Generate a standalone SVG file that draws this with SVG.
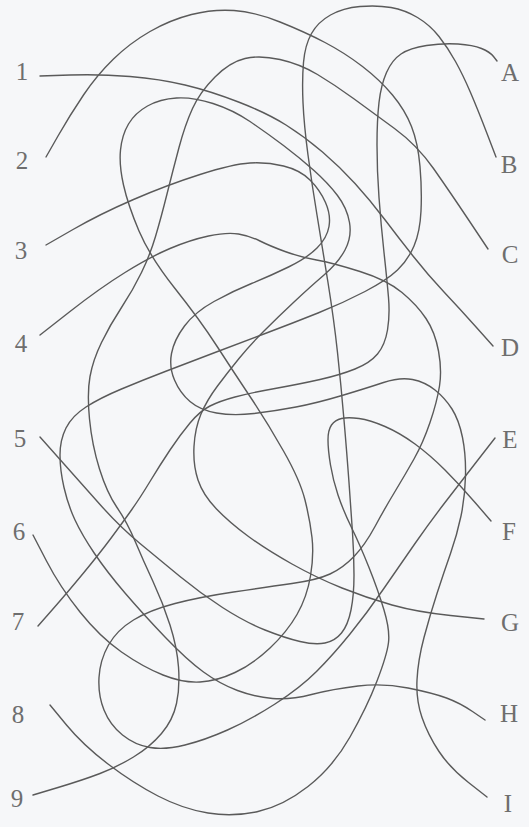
<svg xmlns="http://www.w3.org/2000/svg" width="529" height="827" viewBox="0 0 529 827">
<style>
.bg{fill:#f6f7f9}
.ln{fill:none;stroke:#5a5a5a;stroke-width:1.4;stroke-linecap:round;stroke-linejoin:round}
.lb{font-family:"Liberation Serif","DejaVu Serif",serif;font-size:25px;fill:#6e6e6e;text-anchor:middle}
</style>
<rect class="bg" x="0" y="0" width="529" height="827"/>
<g id="connectors">
<path id="c1-D" class="ln" d="M40,76 L70,75 Q100,74 130,76.5 Q160,79 185,85 Q210,91 238.5,102 Q267,113 286,125 Q305,137 322.5,152 Q340,167 355,183.5 Q370,200 384,218.5 Q398,237 413,256 Q428,275 444,292 Q460,309 476.5,327.5 L493,346"/>
<path id="c2-H" class="ln" d="M46,157 L58,136 Q70,115 83.5,95 Q97,75 113.5,59 Q130,43 150,31.5 Q170,20 191.5,14.5 Q213,9 234,10.5 Q255,12 280,22 Q305,32 325,42.5 Q345,53 362.5,66.5 Q380,80 392.5,95 Q405,110 411.5,126.5 Q418,143 420,166.5 Q422,190 421,211 Q420,232 414,246 Q408,260 397.5,270 Q387,280 365,291.5 Q343,303 318,313 Q293,323 266.5,333 Q240,343 215,352.5 Q190,362 166.5,371 Q143,380 121.5,389 Q100,398 86,407 Q72,416 66,428 Q60,440 60,455 Q60,470 64,487.5 Q68,505 75,520 Q82,535 94.5,553.5 Q107,572 125,593 Q143,614 165,637 Q187,660 203.5,672 Q220,684 237.5,690.5 Q255,697 272.5,698.5 Q290,700 311.5,694.5 Q333,689 358,686 Q383,683 408,688 Q433,693 446.5,698 Q460,703 472.5,711.5 L485,720"/>
<path id="c3-I" class="ln" d="M46,245 L73,229.5 Q100,214 133.5,199.5 Q167,185 200,174.5 Q233,164 250,163 Q267,162 283.5,166 Q300,170 310,180 Q320,190 325.5,202.5 Q331,215 329,226.5 Q327,238 317,248 Q307,258 288.5,267 Q270,276 251.5,283.5 Q233,291 214,301.5 Q195,312 184.5,326 Q174,340 171.5,353.5 Q169,367 174.5,380 Q180,393 190,401.5 Q200,410 216.5,413 Q233,416 254,413.5 Q275,411 296,407 Q317,403 342,395.5 Q367,388 383.5,382.5 Q400,377 412.5,379.5 Q425,382 435,390 Q445,398 452,409 Q459,420 462.5,437.5 Q466,455 465.5,476 Q465,497 461,516 Q457,535 450.5,553.5 Q444,572 437,593.5 Q430,615 424,637.5 Q418,660 417,680 Q416,700 422,717.5 Q428,735 439,751.5 Q450,768 468.5,782.5 L487,797"/>
<path id="c4-E" class="ln" d="M40,335 L70,311.5 Q100,288 125,272.5 Q150,257 170,248.5 Q190,240 208.5,236 Q227,232 238.5,234 Q250,236 260,241 Q270,246 285,251.5 Q300,257 316.5,260 Q333,263 360,271.5 Q387,280 402,292.5 Q417,305 426,318.5 Q435,332 438.5,351 Q442,370 439.5,386 Q437,402 430,422.5 Q423,443 414,459 Q405,475 395,491.5 Q385,508 375,526.5 Q365,545 354,556.5 Q343,568 330,574 Q317,580 292,583.5 Q267,587 233.5,592 Q200,597 175,603.5 Q150,610 133.5,620 Q117,630 108.5,645 Q100,660 99,677.5 Q98,695 104,710 Q110,725 122.5,735 Q135,745 150,747.5 Q165,750 185,745 Q205,740 227.5,730 Q250,720 275,704 Q300,688 316.5,671.5 Q333,655 350,634 Q367,613 383.5,589 Q400,565 415,543.5 Q430,522 445,502.5 Q460,483 477.5,460.5 L495,438"/>
<path id="c5-B" class="ln" d="M40,437 L60,459.5 Q80,482 100,504.5 Q120,527 140,543.5 Q160,560 180,576.5 Q200,593 222.5,607.5 Q245,622 265,630 Q285,638 300,641.5 Q315,645 325,643 Q335,641 341.5,633 Q348,625 351,610 Q354,595 354,575 Q354,555 352.5,532.5 Q351,510 349,482.5 Q347,455 344,420 Q341,385 337.5,352.5 Q334,320 328,282.5 Q322,245 317,215 Q312,185 308,155 Q304,125 303,102.5 Q302,80 303.5,62.5 Q305,45 311.5,33.5 Q318,22 330.5,15 Q343,8 360,6.5 Q377,5 391,7.5 Q405,10 417.5,17.5 Q430,25 439,36.5 Q448,48 455.5,61.5 Q463,75 470.5,92.5 Q478,110 487,133.5 L496,157"/>
<path id="c6-G" class="ln" d="M33,535 L46.5,561 Q60,587 80,612 Q100,637 121.5,652 Q143,667 163,675 Q183,683 200,682 Q217,681 235,672.5 Q253,664 270,648 Q287,632 297,614.5 Q307,597 310.5,576 Q314,555 312,537.5 Q310,520 305,500 Q300,480 283.5,451 Q267,422 250,396.5 Q233,371 216.5,345.5 Q200,320 175,288.5 Q150,257 139,231 Q128,205 123.5,185 Q119,165 120.5,150 Q122,135 128.5,124 Q135,113 147.5,106 Q160,99 176.5,98 Q193,97 213,103.5 Q233,110 250,121.5 Q267,133 283.5,145.5 Q300,158 314,170.5 Q328,183 337.5,195.5 Q347,208 349.5,222.5 Q352,237 345,250 Q338,263 324,275 Q310,287 294,302 Q278,317 264,331 Q250,345 239,358.5 Q228,372 217.5,386 Q207,400 201,414 Q195,428 194,446.5 Q193,465 198,480 Q203,495 216.5,509 Q230,523 248.5,536.5 Q267,550 292,564 Q317,578 342,588 Q367,598 392,605 Q417,612 450.5,615.5 L484,619"/>
<path id="c7-A" class="ln" d="M38,626 L52.5,609.5 Q67,593 83.5,573 Q100,553 111.5,537.5 Q123,522 131.5,510 Q140,498 150,481.5 Q160,465 170,450 Q180,435 190,423 Q200,411 210,406 Q220,401 235,397 Q250,393 275,388.5 Q300,384 320,379.5 Q340,375 355,369 Q370,363 377.5,354 Q385,345 387.5,330 Q390,315 388.5,297.5 Q387,280 384,252.5 Q381,225 379,197.5 Q377,170 377,145 Q377,120 379,102.5 Q381,85 386.5,72.5 Q392,60 401,54 Q410,48 426.5,45.5 Q443,43 458,44 Q473,45 481.5,48.5 Q490,52 493.5,56.5 L497,61"/>
<path id="c8-F" class="ln" d="M50,705 L66.5,725 Q83,745 108,764 Q133,783 158,796 Q183,809 208,813 Q233,817 258,811.5 Q283,806 308,786.5 Q333,767 350,737 Q367,707 377,681 Q387,655 388.5,642.5 Q390,630 384,610 Q378,590 369,567.5 Q360,545 351.5,527.5 Q343,510 338,495 Q333,480 330.5,465 Q328,450 328,440 Q328,430 331.5,425 Q335,420 341.5,418.5 Q348,417 359,418.5 Q370,420 385,426.5 Q400,433 415,444 Q430,455 445,470 Q460,485 475.5,503 L491,521"/>
<path id="c9-C" class="ln" d="M33,795 L58,787.5 Q83,780 100,773.5 Q117,767 133.5,757 Q150,747 161.5,733.5 Q173,720 176.5,703.5 Q180,687 178.5,667 Q177,647 170,625 Q163,603 153,581.5 Q143,560 135,541 Q127,522 117,507.5 Q107,493 99.5,469 Q92,445 89.5,419 Q87,393 90,376.5 Q93,360 101.5,342.5 Q110,325 121.5,307.5 Q133,290 141.5,272.5 Q150,255 155.5,236.5 Q161,218 167,194 Q173,170 179,147.5 Q185,125 192.5,108.5 Q200,92 215,77 Q230,62 245,58.5 Q260,55 280,59.5 Q300,64 317.5,74.5 Q335,85 353.5,98.5 Q372,112 394.5,128.5 Q417,145 433.5,168.5 Q450,192 469,220.5 L488,249"/>
</g>
<g id="n1"><text class="lb" x="22" y="80">1</text></g>
<g id="n2"><text class="lb" x="22" y="169">2</text></g>
<g id="n3"><text class="lb" x="21" y="259">3</text></g>
<g id="n4"><text class="lb" x="21" y="352">4</text></g>
<g id="n5"><text class="lb" x="20" y="447">5</text></g>
<g id="n6"><text class="lb" x="19" y="540">6</text></g>
<g id="n7"><text class="lb" x="18" y="630">7</text></g>
<g id="n8"><text class="lb" x="18" y="723">8</text></g>
<g id="n9"><text class="lb" x="17" y="807">9</text></g>
<g id="nA"><text class="lb" x="510" y="81">A</text></g>
<g id="nB"><text class="lb" x="509" y="173">B</text></g>
<g id="nC"><text class="lb" x="510" y="263">C</text></g>
<g id="nD"><text class="lb" x="510" y="356">D</text></g>
<g id="nE"><text class="lb" x="510" y="448">E</text></g>
<g id="nF"><text class="lb" x="509" y="540">F</text></g>
<g id="nG"><text class="lb" x="510" y="631">G</text></g>
<g id="nH"><text class="lb" x="509" y="722">H</text></g>
<g id="nI"><text class="lb" x="508" y="812">I</text></g>
</svg>
